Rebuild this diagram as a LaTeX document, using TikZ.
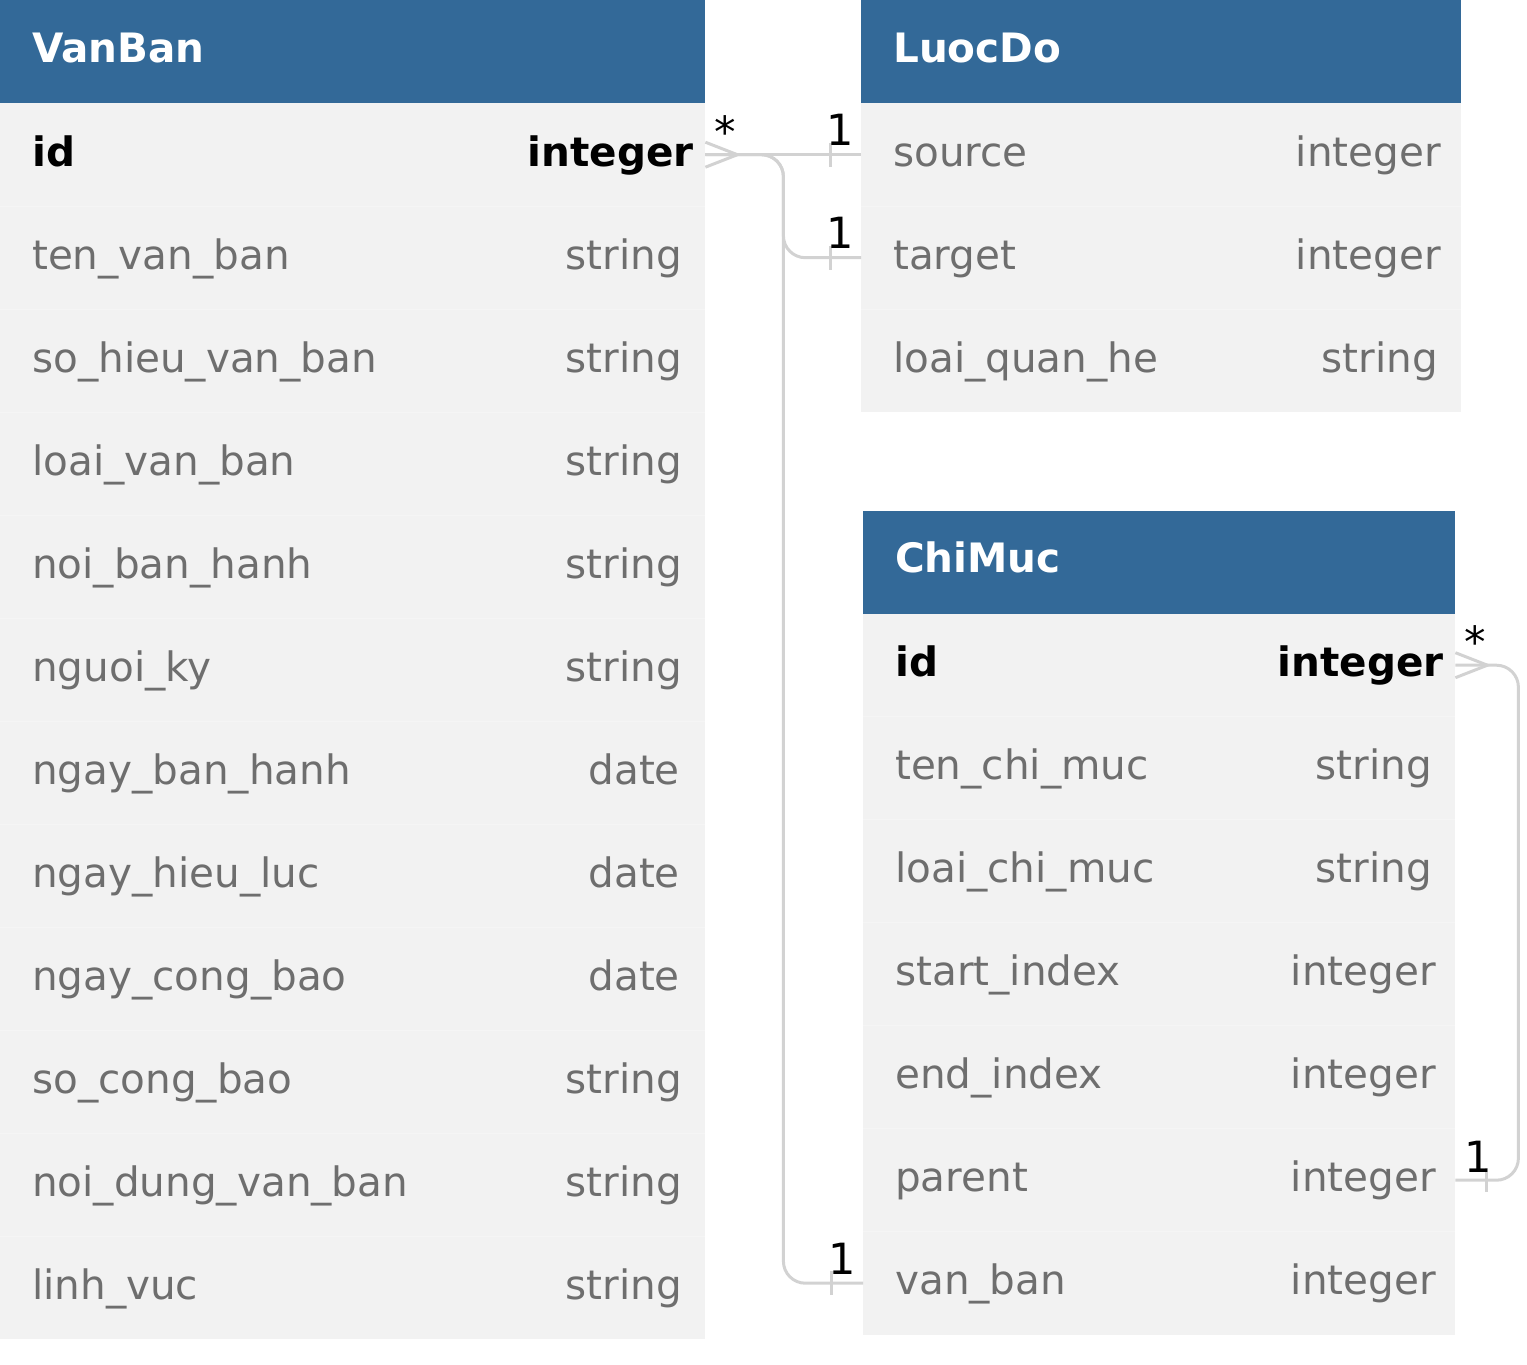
\documentclass[tikz,border=0pt]{standalone}
\usepackage{fontspec}
\setmainfont{DejaVu Sans}
\usetikzlibrary{calc}
\definecolor{hdr}{HTML}{336998}
\definecolor{rowbg}{HTML}{F2F2F2}
\definecolor{sep}{HTML}{F5F5F5}
\definecolor{txtgray}{HTML}{6E6E6E}
\definecolor{conncol}{HTML}{D2D2D2}
\tikzset{
  fnt/.style={font=\fontsize{40.5}{48}\selectfont},
  hdrbox/.style={fill=hdr,draw=none,inner sep=0,anchor=north west,minimum height=103pt},
  rowbox/.style={fill=rowbg,draw=none,inner sep=0,anchor=north west,minimum height=103pt},
  hdrtxt/.style={fnt,text=white,inner sep=0,anchor=base west,font=\fontsize{40.5}{48}\selectfont\bfseries},
  nametxt/.style={fnt,text=txtgray,inner sep=0,anchor=base west},
  typetxt/.style={fnt,text=txtgray,inner sep=0,anchor=base east},
  keytxt/.style={text=black,font=\fontsize{40.5}{48}\selectfont\bfseries},
  conn/.style={draw=conncol,line width=3pt,rounded corners=22pt},
  lbl/.style={font=\fontsize{43}{50}\selectfont,text=black,inner sep=0,anchor=base},
}
\begin{document}
\begin{tikzpicture}[x=1pt,y=-1pt]
\useasboundingbox (0,0) rectangle (1527,1365);

% ---------------- VanBan ----------------
\node[hdrbox,minimum width=705pt] (vbh) at (0,0) {};
\node[hdrtxt] (vbht) at (32,62) {VanBan};
\foreach \i/\n/\t/\r in {1/id/integer/694,2/ten\_van\_ban/string/682,3/so\_hieu\_van\_ban/string/682,
  4/loai\_van\_ban/string/682,5/noi\_ban\_hanh/string/682,6/nguoi\_ky/string/682,
  7/ngay\_ban\_hanh/date/680,8/ngay\_hieu\_luc/date/680,9/ngay\_cong\_bao/date/680,
  10/so\_cong\_bao/string/682,11/noi\_dung\_van\_ban/string/682,12/linh\_vuc/string/682}{
  \node[rowbox,minimum width=705pt] (vb\i) at (0,{103*\i}) {};
  \ifnum\i=1
    \node[nametxt,keytxt] (vbn\i) at (32,{103*\i+51.5+11.5}) {\n};
    \node[typetxt,keytxt] (vbt\i) at (\r,{103*\i+51.5+11.5}) {\t};
  \else
    \draw[sep,line width=1pt] (vb\i.north west) -- (vb\i.north east);
    \node[nametxt] (vbn\i) at (32,{103*\i+51.5+11.5}) {\n};
    \node[typetxt] (vbt\i) at (\r,{103*\i+51.5+11.5}) {\t};
  \fi
}

% ---------------- LuocDo ----------------
\node[hdrbox,minimum width=600pt] (ldh) at (861,0) {};
\node[hdrtxt] (ldht) at (893,62) {LuocDo};
\foreach \i/\n/\t/\r in {1/source/integer/1441,2/target/integer/1441,3/loai\_quan\_he/string/1438}{
  \node[rowbox,minimum width=600pt] (ld\i) at (861,{103*\i}) {};
  \ifnum\i>1 \draw[sep,line width=1pt] (ld\i.north west) -- (ld\i.north east); \fi
  \node[nametxt] (ldn\i) at (893,{103*\i+51.5+11.5}) {\n};
  \node[typetxt] (ldt\i) at (\r,{103*\i+51.5+11.5}) {\t};
}

% ---------------- ChiMuc ----------------
\node[hdrbox,minimum width=592pt] (cmh) at (863,510.5) {};
\node[hdrtxt] (cmht) at (895,572.5) {ChiMuc};
\foreach \i/\n/\t/\r in {1/id/integer/1444,2/ten\_chi\_muc/string/1432,3/loai\_chi\_muc/string/1432,
  4/start\_index/integer/1436,5/end\_index/integer/1436,6/parent/integer/1436,7/van\_ban/integer/1436}{
  \node[rowbox,minimum width=592pt] (cm\i) at (863,{510.5+103*\i}) {};
  \ifnum\i=1
    \node[nametxt,keytxt] (cmn\i) at (895,{510.5+103*\i+51.5+11.5}) {\n};
    \node[typetxt,keytxt] (cmt\i) at (\r,{510.5+103*\i+51.5+11.5}) {\t};
  \else
    \draw[sep,line width=1pt] (cm\i.north west) -- (cm\i.north east);
    \node[nametxt] (cmn\i) at (895,{510.5+103*\i+51.5+11.5}) {\n};
    \node[typetxt] (cmt\i) at (\r,{510.5+103*\i+51.5+11.5}) {\t};
  \fi
}

% ---------------- connectors ----------------
% VanBan.id -> LuocDo.source
\draw[conn] (vb1.east) -- (ld1.west);
% VanBan.id -> LuocDo.target
\draw[conn] (vb1.east) -- ++(78,0) |- (ld2.west);
% VanBan.id -> ChiMuc.van_ban
\draw[conn] (vb1.east) -- ++(78,0) |- (cm7.west);
% crow's foot at VanBan.id
\draw[conn,rounded corners=0] ($(vb1.east)+(0,-12.5)$) -- ($(vb1.east)+(32,0)$) -- ($(vb1.east)+(0,12.5)$);
% one ticks
\draw[conn,rounded corners=0] ($(ld1.west)+(-31,-12)$) -- ($(ld1.west)+(-31,12)$);
\draw[conn,rounded corners=0] ($(ld2.west)+(-31,-12)$) -- ($(ld2.west)+(-31,12)$);
\draw[conn,rounded corners=0] ($(cm7.west)+(-32,-12)$) -- ($(cm7.west)+(-32,12)$);

% ChiMuc.id -> ChiMuc.parent
\draw[conn] (cm1.east) -- ++(63,0) |- (cm6.east);
\draw[conn,rounded corners=0] ($(cm1.east)+(0,-12.5)$) -- ($(cm1.east)+(32,0)$) -- ($(cm1.east)+(0,12.5)$);
\draw[conn,rounded corners=0] ($(cm6.east)+(31,-12)$) -- ($(cm6.east)+(31,12)$);

% ---------------- labels ----------------
\node[lbl] (l1) at (725,147) {*};
\node[lbl] (l2) at (840,145) {1};
\node[lbl] (l3) at (840,248) {1};
\node[lbl] (l4) at (842,1274) {1};
\node[lbl] (l5) at (1475,657) {*};
\node[lbl] (l6) at (1478,1172) {1};
\end{tikzpicture}
\end{document}
